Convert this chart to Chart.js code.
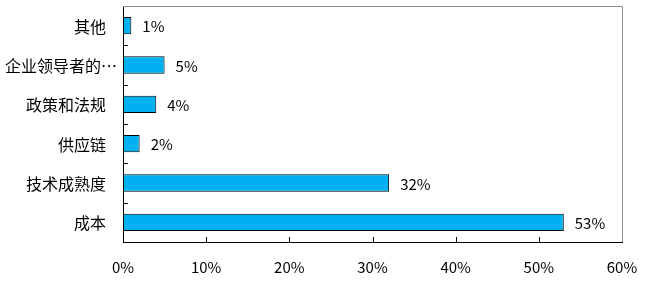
<!DOCTYPE html>
<html>
<head>
<meta charset="utf-8">
<script src="https://cdn.jsdelivr.net/npm/chart.js@4"></script>
<style>
  html, body { margin: 0; padding: 0; background: #fff; }
  #wrap { width: 646px; height: 282px; }
</style>
</head>
<body>
<div id="wrap"><canvas id="chart"></canvas></div>
<script>
// Data
const categories = ["其他", "企业领导者的…", "政策和法规", "供应链", "技术成熟度", "成本"];
const values = [1, 5, 4, 2, 32, 53];
const xTicks = [0, 10, 20, 30, 40, 50, 60];

const font = "'Noto Sans CJK SC', 'Noto Sans', sans-serif";
const barColor = "#00b0f0";

// Draws the gray top/right frame, inner tick marks, category and value labels
const framePlugin = {
  id: "frame",
  afterDraw(chart) {
    const { ctx, chartArea: a } = chart;
    const x = chart.scales.x;
    const y = chart.scales.y;
    ctx.save();
    ctx.lineWidth = 1;
    ctx.strokeStyle = "#8c8c8c";
    ctx.beginPath();
    ctx.moveTo(a.left, a.top + 0.5);
    ctx.lineTo(a.right + 0.5, a.top + 0.5);
    ctx.lineTo(a.right + 0.5, a.bottom);
    ctx.stroke();

    ctx.strokeStyle = "#000";
    ctx.beginPath();
    xTicks.slice(1, -1).forEach((t) => {
      const px = Math.round(x.getPixelForValue(t)) + 0.5;
      ctx.moveTo(px, a.bottom);
      ctx.lineTo(px, a.bottom - 5);
    });
    for (let i = 1; i < categories.length; i++) {
      const py = Math.round((y.getPixelForValue(i - 1) + y.getPixelForValue(i)) / 2) + 0.5;
      ctx.moveTo(a.left, py);
      ctx.lineTo(a.left + 5, py);
    }
    ctx.stroke();

    ctx.fillStyle = "#000";
    ctx.textBaseline = "middle";

    // category labels (ellipsis hangs past the right edge)
    ctx.font = "16px " + font;
    categories.forEach((c, i) => {
      const py = y.getPixelForValue(i) + 1;
      if (c.endsWith("…")) {
        const base = c.slice(0, -1);
        ctx.textAlign = "right";
        ctx.fillText(base, a.left - 22, py);
        ctx.textAlign = "left";
        ctx.fillText("…", a.left - 22, py);
      } else {
        ctx.textAlign = "right";
        ctx.fillText(c, a.left - 17, py);
      }
    });

    // value labels
    ctx.font = "15px " + font;
    ctx.textAlign = "left";
    const meta = chart.getDatasetMeta(0);
    meta.data.forEach((bar, i) => {
      ctx.fillText(values[i] + "%", bar.x + 11, bar.y + 1);
    });
    ctx.restore();
  },
};

new Chart(document.getElementById("chart"), {
  type: "bar",
  data: {
    labels: categories,
    datasets: [
      {
        data: values,
        backgroundColor: barColor,
        borderColor: "#000",
        borderWidth: 1,
        borderSkipped: false,
        categoryPercentage: 1,
        barPercentage: 0.44,
      },
    ],
  },
  options: {
    indexAxis: "y",
    responsive: true,
    maintainAspectRatio: false,
    animation: false,
    layout: { padding: { left: 0, right: 24, top: 6, bottom: 0 } },
    plugins: {
      legend: { display: false },
      tooltip: { enabled: false },
    },
    scales: {
      x: {
        min: 0,
        max: 60,
        afterBuildTicks: (scale) => {
          scale.ticks = xTicks.map((v) => ({ value: v }));
        },
        ticks: {
          color: "#000",
          font: { family: font, size: 15 },
          padding: 16,
          maxRotation: 0,
          callback: (v) => v + "%",
        },
        grid: { display: false, drawTicks: false },
        border: { display: true, color: "#000", width: 1 },
        afterFit: (scale) => {
          scale.height = 40;
          scale.paddingLeft = 0;
          scale.paddingRight = 0;
        },
      },
      y: {
        ticks: { display: false },
        grid: { display: false, drawTicks: false },
        border: { display: true, color: "#000", width: 1 },
        afterFit: (scale) => {
          scale.width = 123;
        },
      },
    },
  },
  plugins: [framePlugin],
});
</script>
</body>
</html>
